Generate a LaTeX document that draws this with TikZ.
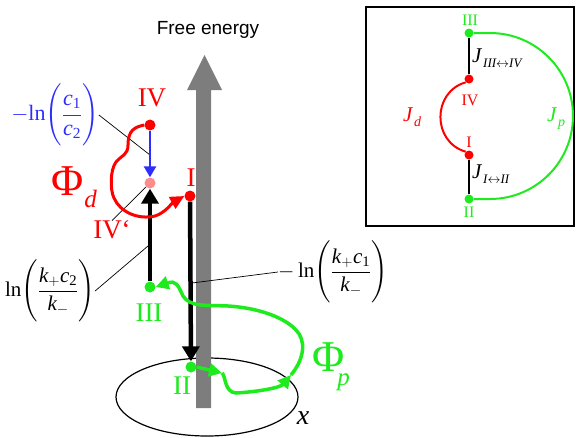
\documentclass[tikz,border=0pt]{standalone}
\usepackage{fix-cm}
\usepackage{amsmath}
\usepackage{fontspec}
\setmainfont{Liberation Serif}
\setsansfont{Liberation Sans}
\usetikzlibrary{arrows.meta, shapes.geometric}
\definecolor{dred}{RGB}{255, 0, 0}
\definecolor{pgreen}{RGB}{30, 235, 30}
\definecolor{lnblue}{RGB}{45, 45, 255}
\definecolor{axisgray}{RGB}{125, 125, 125}
\newcommand{\mi}[1]{\text{\itshape #1}}
\newcommand{\fs}[1]{\fontsize{#1}{#1}\selectfont}

\begin{document}
\begin{tikzpicture}[x=1pt, y=-1pt,
                dot/.style={circle, inner sep=0pt, minimum size=11pt},
                jdot/.style={circle, inner sep=0pt, minimum size=9pt},
                numeral/.style={inner sep=0pt, font=\fs{27}},
                smallnum/.style={inner sep=0pt, font=\fs{16}},
                lnlabel/.style={inner sep=0pt, font=\fs{21}},
                potential/.style={anchor=base west, inner sep=0pt},
                jump/.style={line width=4.5pt, -{Triangle[width=17pt, length=15pt]}},
                leader/.style={line width=0.7pt},
                dloop/.style={draw=dred, line width=3pt, -{Triangle[width=13pt, length=14pt]}},
                ploop/.style={draw=pgreen, line width=3.5pt, -{Triangle[width=13pt, length=13pt]}},
                link/.style={line width=2pt}
            ]
            \useasboundingbox (0, 0) rectangle (576, 437);

            \node[draw, ellipse, line width=1.2pt, minimum width=182pt, minimum height=78pt] (plane) at (207, 397) {};
            \fill[axisgray] (196, 408) -- (196, 90) -- (187, 90) -- (204.5, 55)
                -- (222, 90) -- (211, 90) -- (211, 408) -- cycle;
            \node[font=\sffamily\fs{19}, inner sep=0pt] (fe) at (208, 30) {Free energy};
            \node[font=\fs{28}\itshape, inner sep=0pt] (xlab) at (303, 418) {x};

            \node[dot, fill=dred] (iv) at (150, 125) {};
            \node[dot, fill=dred!45] (ivp) at (150, 183) {};
            \node[dot, fill=dred] (i) at (190, 196) {};
            \node[dot, fill=pgreen] (ii) at (191, 367) {};
            \node[dot, fill=pgreen] (iii) at (150, 287) {};

            \node[numeral, text=dred] (ivlab) at (152, 98) {IV};
            \node[numeral, text=dred] (ilab) at (191, 178) {I};
            \node[numeral, text=dred] (ivplab) at (112, 230) {IV‘};
            \node[numeral, text=pgreen] (iiilab) at (149, 313) {III};
            \node[numeral, text=pgreen] (iilab) at (182, 386) {II};

            \node[potential, text=dred] (phid) at (51, 195)
                {{\fs{44}Φ}\kern1pt\raisebox{-12pt}{\fs{25}\itshape d}};
            \node[potential, text=pgreen] (phip) at (312, 371)
                {{\fs{44}Φ}\kern-7pt\raisebox{-14pt}{\fs{25}\itshape p}};

            \node[lnlabel, font=\fs{22}, text=lnblue] (lnc) at (55, 115)
                {$-\text{ln}\Biggl(\dfrac{\mi{c}_{\text{1}}}{\mi{c}_{\text{2}}}\Biggr)$};
            \node[lnlabel] (lnk2) at (50, 291)
                {$\text{ln}\Biggl(\dfrac{\mi{k}_{+}\mi{c}_{\text{2}}}{\mi{k}_{-}}\Biggr)$};
            \node[lnlabel] (lnk1) at (333, 272)
                {$-\,\text{ln}\Biggl(\dfrac{\mi{k}_{+}\mi{c}_{\text{1}}}{\mi{k}_{-}}\Biggr)$};

            \coordinate (onblue) at (150, 155);
            \coordinate (onleft) at (148, 246);
            \coordinate (onright) at (192, 283);
            \coordinate (gp1) at (222, 373);
            \coordinate (gp2) at (291, 375);

            \draw[leader] (lnc.east) -- (onblue);
            \draw[leader] (lnk2.east) -- (onleft);
            \draw[leader] (onright) -- (lnk1.west);
            \draw[leader] (ivplab.north) -- (ivp);

            \draw[draw=lnblue, line width=2.5pt, -{Triangle[width=12pt, length=11pt]}] (iv) -- (ivp);
            \draw[jump] (iii) -- (ivp);
            \draw[jump] (i) -- (ii);

            \draw[dloop] (iv.west) .. controls (135, 127) and (128, 130) .. (128, 145)
                .. controls (128, 155) and (122, 155) .. (116, 162)
                .. controls (110, 170) and (110, 190) .. (114, 198)
                .. controls (120, 212) and (138, 220) .. (155, 216)
                .. controls (165, 213) and (172, 203) .. (i.west);

            \draw[ploop] (ii.east) -- (gp1);
            \draw[ploop] (gp1) .. controls (226, 376) and (224, 392) .. (236, 393)
                .. controls (255, 392) and (280, 388) .. (gp2);
            \draw[ploop] (gp2) .. controls (305, 358) and (306, 340) .. (296, 330)
                .. controls (285, 318) and (260, 308) .. (228, 306)
                .. controls (205, 305) and (190, 307) .. (183, 296)
                .. controls (178, 285) and (176, 280) .. (iii.east);

            \node[draw, line width=1.3pt, minimum width=208pt, minimum height=219pt, inner sep=0pt] (inset) at (470, 116.5) {};
            \node[jdot, fill=pgreen] (jiii) at (469, 33) {};
            \node[jdot, fill=dred] (jiv) at (469, 79) {};
            \node[jdot, fill=dred] (ji) at (469, 155) {};
            \node[jdot, fill=pgreen] (jii) at (469, 199) {};

            \node[smallnum, text=pgreen] (jiiilab) at (470, 20) {III};
            \node[smallnum, text=dred] (jivlab) at (470, 100) {IV};
            \node[smallnum, text=dred] (jilab) at (469, 142) {I};
            \node[smallnum, text=pgreen] (jiilab) at (469, 212) {II};

            \draw[link] (jiii) -- (jiv);
            \draw[link] (ji) -- (jii);
            \draw[link, draw=dred] (jiv.south west) .. controls (432, 92) and (432, 142) .. (ji.north west);
            \draw[link, draw=pgreen] (jiii.east) -- (490, 33) arc[start angle=-90, end angle=90, radius=83] -- (jii.east);

            \node[anchor=base west, inner sep=0pt] (jupper) at (472, 62)
                {{\fs{21}\itshape J}\,\raisebox{-5pt}{\fs{13}\itshape III$\leftrightarrow$IV}};
            \node[anchor=base west, inner sep=0pt] (jlower) at (472, 178)
                {{\fs{21}\itshape J}\,\raisebox{-5pt}{\fs{13}\itshape I$\leftrightarrow$II}};
            \node[anchor=base west, inner sep=0pt, text=dred] (jd) at (403, 121)
                {{\fs{21}\itshape J}\,\raisebox{-5pt}{\fs{14}\itshape d}};
            \node[anchor=base west, inner sep=0pt, text=pgreen] (jp) at (547, 121)
                {{\fs{21}\itshape J}\,\raisebox{-5pt}{\fs{14}\itshape p}};

            \end{tikzpicture}
\end{document}
